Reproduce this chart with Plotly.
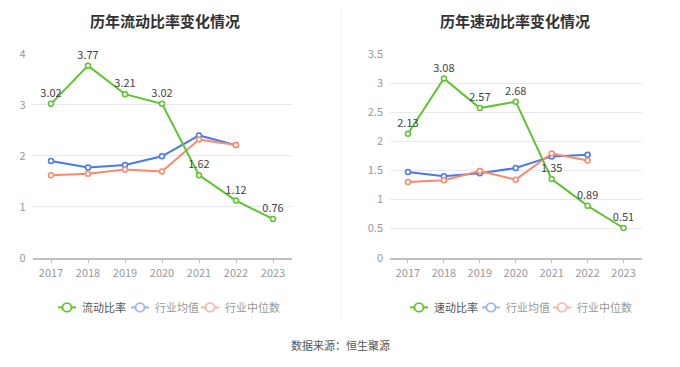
import plotly.graph_objects as go

years = ["2017", "2018", "2019", "2020", "2021", "2022", "2023"]
current_ratio = [3.02, 3.77, 3.21, 3.02, 1.62, 1.12, 0.76]
current_ind_mean = [1.90, 1.77, 1.82, 1.99, 2.40, 2.21]
current_ind_median = [1.62, 1.65, 1.73, 1.69, 2.32, 2.21]
quick_ratio = [2.13, 3.08, 2.57, 2.68, 1.35, 0.89, 0.51]
quick_ind_mean = [1.47, 1.40, 1.45, 1.54, 1.74, 1.77]
quick_ind_median = [1.30, 1.33, 1.49, 1.34, 1.79, 1.67]

left_title = "历年流动比率变化情况"
right_title = "历年速动比率变化情况"
left_names = ["流动比率", "行业均值", "行业中位数"]
right_names = ["速动比率", "行业均值", "行业中位数"]
source = "数据来源：恒生聚源"

W, H = 680, 367
GREEN = "#5cc52e"
BLUE = "#4679ef"
ORANGE = "#f98a6a"
LEG_COLORS = [GREEN, "#9ab6f6", "#fbb6a2"]
LEG_TEXT = ["#555555", "#999999", "#999999"]
FONT = "Noto Sans CJK SC"

fig = go.Figure()


def add_series(xa, ya, main, mean, median):
    fig.add_trace(go.Scatter(
        x=years[:len(mean)], y=mean, mode="lines+markers", xaxis=xa, yaxis=ya,
        line=dict(color=BLUE, width=2),
        marker=dict(symbol="circle", size=5, color="white", line=dict(color=BLUE, width=1.5)),
        showlegend=False, hoverinfo="skip"))
    fig.add_trace(go.Scatter(
        x=years[:len(median)], y=median, mode="lines+markers", xaxis=xa, yaxis=ya,
        line=dict(color=ORANGE, width=2),
        marker=dict(symbol="circle", size=5, color="white", line=dict(color=ORANGE, width=1.5)),
        showlegend=False, hoverinfo="skip"))
    fig.add_trace(go.Scatter(
        x=years, y=main, mode="lines+markers+text", xaxis=xa, yaxis=ya,
        line=dict(color=GREEN, width=2),
        marker=dict(symbol="circle", size=5, color="white", line=dict(color=GREEN, width=1.5)),
        text=[f"{v:.2f}" for v in main], textposition="top center",
        textfont=dict(size=11, color="#444444", family=FONT),
        showlegend=False, hoverinfo="skip", cliponaxis=False))


add_series("x", "y", current_ratio, current_ind_mean, current_ind_median)
add_series("x2", "y2", quick_ratio, quick_ind_mean, quick_ind_median)

ybot = (H - 260) / H
ytop = (H - 47) / H

axis_common = dict(
    type="category", range=[-0.5, 6.5], showgrid=False, zeroline=False,
    showline=True, linecolor="#c0c0c0", linewidth=1.5,
    ticks="outside", ticklen=4, tickwidth=1, tickcolor="#c0c0c0",
    tickfont=dict(size=11, color="#999999", family=FONT),
)
yaxis_common = dict(
    showgrid=True, gridcolor="#e6e9f4", gridwidth=1, zeroline=False, showline=False,
    tickfont=dict(size=11, color="#999999", family=FONT), ticks="", ticklabelstandoff=6,
)

fig.update_layout(
    width=W, height=H, margin=dict(l=0, r=0, t=0, b=0),
    paper_bgcolor="white", plot_bgcolor="white",
    font=dict(family=FONT),
    xaxis=dict(domain=[32.5 / W, 291.5 / W], anchor="y", **axis_common),
    yaxis=dict(domain=[ybot, ytop], anchor="x", range=[0, 4], dtick=1, **yaxis_common),
    xaxis2=dict(domain=[390 / W, 641.5 / W], anchor="y2", **axis_common),
    yaxis2=dict(domain=[ybot, ytop], anchor="x2", range=[0, 3.5], dtick=0.5, **yaxis_common),
)

ann = []
ann.append(dict(text=f"<b>{left_title}</b>", x=165 / W, y=1 - 12 / H, xref="paper", yref="paper",
                showarrow=False, font=dict(size=15, color="#333333", family=FONT), xanchor="center", yanchor="middle"))
ann.append(dict(text=f"<b>{right_title}</b>", x=515 / W, y=1 - 12 / H, xref="paper", yref="paper",
                showarrow=False, font=dict(size=15, color="#333333", family=FONT), xanchor="center", yanchor="middle"))
ann.append(dict(text=source, x=340 / W, y=1 - 351 / H, xref="paper", yref="paper",
                showarrow=False, font=dict(size=11, color="#555555", family=FONT), xanchor="center", yanchor="middle"))

shapes = [dict(type="line", xref="paper", yref="paper", x0=341 / W, x1=341 / W,
               y0=1 - 326 / H, y1=1, line=dict(color="#f0f0f0", width=1))]

leg_y = 312
left_leg_x = [67, 140, 210]
right_leg_x = [419, 491, 562]
for centers, names in ((left_leg_x, left_names), (right_leg_x, right_names)):
    for cx, name, col, tcol in zip(centers, names, LEG_COLORS, LEG_TEXT):
        yp = 1 - leg_y / H
        shapes.append(dict(type="line", xref="paper", yref="paper",
                           x0=(cx - 9) / W, x1=(cx + 9) / W, y0=yp, y1=yp,
                           line=dict(color=col, width=2)))
        shapes.append(dict(type="circle", xref="paper", yref="paper",
                           x0=(cx - 4.5) / W, x1=(cx + 4.5) / W,
                           y0=1 - (leg_y + 4.5) / H, y1=1 - (leg_y - 4.5) / H,
                           fillcolor="white", line=dict(color=col, width=1.8)))
        ann.append(dict(text=name, x=(cx + 13) / W, y=yp, xref="paper", yref="paper",
                        showarrow=False, font=dict(size=11, color=tcol, family=FONT),
                        xanchor="left", yanchor="middle"))

fig.update_layout(annotations=ann, shapes=shapes)
fig.write_html("out.html", config={"displayModeBar": False},
               post_script="document.body.style.margin='0';document.body.style.overflow='hidden';")
